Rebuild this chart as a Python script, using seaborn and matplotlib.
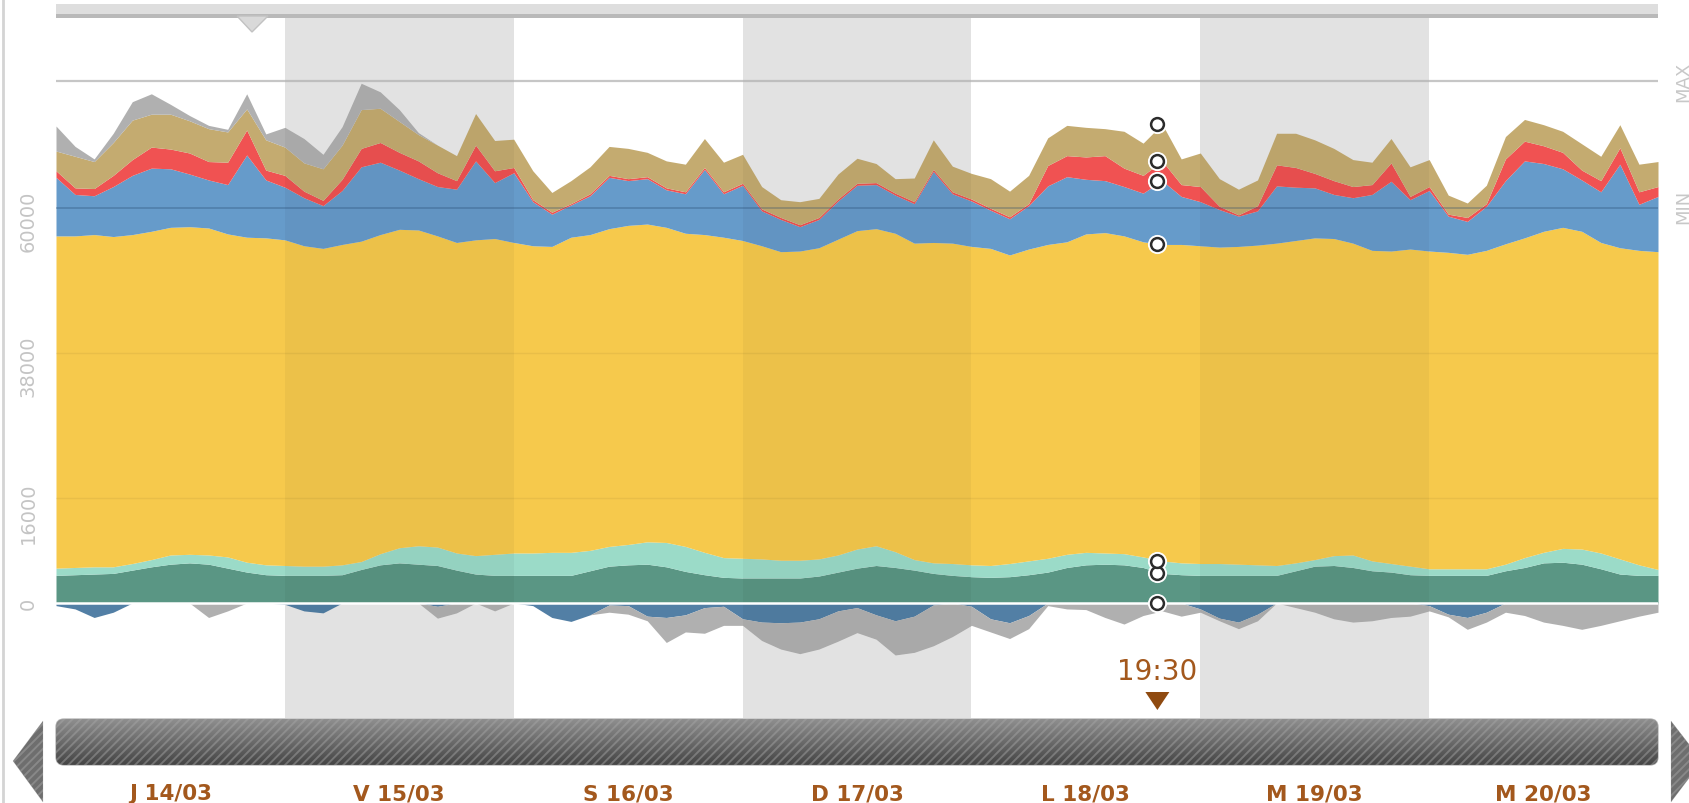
import numpy as np
import matplotlib
matplotlib.use("Agg")
import matplotlib.pyplot as plt
import matplotlib.transforms as mtransforms
from matplotlib.colors import LinearSegmentedColormap
from matplotlib.patches import FancyBboxPatch, Polygon, Rectangle
import seaborn as sns

# half-hourly eco2mix style week, read every 2 hours (MW)
hours = np.arange(0, 169, 2)

green = [4200, 4300, 4400, 4500, 5000, 5500, 5900, 6100, 5900, 5300, 4700, 4300,
         4200, 4200, 4200, 4300, 5100, 5800, 6100, 5900, 5700, 5000, 4400, 4200,
         4200, 4200, 4200, 4200, 4900, 5600, 5800, 5900, 5500, 4800, 4300, 3900,
         3800, 3800, 3800, 3800, 4100, 4700, 5300, 5700, 5400, 5000, 4500, 4200,
         4000, 3900, 4000, 4300, 4700, 5400, 5800, 5900, 5800, 5400, 4500, 4300,
         4200, 4200, 4200, 4200, 4200, 4900, 5600, 5700, 5400, 4900, 4700, 4300,
         4200, 4200, 4200, 4200, 4900, 5400, 6100, 6200, 5900, 5200, 4400, 4200,
         4200]
teal = [1100, 1100, 1100, 1000, 1000, 1100, 1400, 1300, 1400, 1700, 1500, 1500,
        1500, 1400, 1400, 1500, 1200, 1700, 2300, 2800, 2800, 2600, 2800, 3200,
        3400, 3400, 3500, 3500, 3100, 3000, 3100, 3400, 3700, 3800, 3400, 3000,
        3000, 2900, 2700, 2700, 2600, 2600, 2900, 3000, 2400, 1600, 1600, 1800,
        1800, 1800, 2000, 2100, 2100, 2000, 1900, 1700, 1700, 1600, 1900, 1800,
        1800, 1800, 1700, 1600, 1500, 1200, 1000, 1500, 1900, 1500, 1300, 1300,
        1000, 1000, 1000, 1000, 1000, 1500, 1600, 2100, 2300, 2400, 2300, 1600,
        900]
yellow = [50500, 50400, 50500, 50200, 50000, 49900, 49800, 49800, 49700, 49100, 49400, 49700,
          49500, 48700, 48300, 48700, 48700, 48500, 48400, 48000, 47300, 47200, 48000, 48000,
          47200, 46700, 46500, 47900, 48000, 48300, 48500, 48300, 47900, 47600, 48300, 48700,
          48300, 47600, 46900, 47000, 47300, 48000, 48400, 48200, 48400, 48100, 48700, 48700,
          48400, 48200, 46900, 47400, 47700, 47500, 48400, 48700, 48300, 47900, 48100, 48400,
          48300, 48100, 48300, 48600, 49000, 49000, 48900, 48200, 47400, 47200, 47500, 48200,
          48300, 48100, 47800, 48400, 48700, 48600, 48800, 48800, 48300, 47200, 47300, 47800,
          48300]
blue = [8900, 6300, 5900, 7600, 9000, 9600, 8900, 8000, 7300, 7500, 12500, 8800,
        8000, 7300, 6500, 8200, 11300, 11000, 9000, 7800, 7500, 8100, 12000, 8500,
        10600, 6700, 4900, 4900, 5900, 7800, 6800, 6900, 5700, 6000, 9900, 6600,
        8400, 5300, 4900, 3700, 4300, 5800, 6900, 6700, 5800, 6000, 10800, 7500,
        6900, 5800, 5500, 6600, 8900, 9900, 8300, 7900, 7500, 7400, 9700, 7300,
        6700, 5700, 4600, 5200, 8700, 8100, 7600, 6700, 6900, 8500, 10600, 7500,
        9200, 5500, 5000, 6700, 9600, 11700, 10300, 8900, 7800, 7700, 12700, 7000,
        8400]
red = [1000, 1000, 1100, 1700, 2400, 3200, 3000, 3200, 2800, 3400, 3800, 1500,
       1800, 1000, 800, 1700, 2800, 3000, 2700, 2700, 2100, 1300, 2400, 1800,
       800, 300, 300, 200, 300, 300, 300, 300, 300, 300, 300, 300,
       300, 300, 300, 300, 300, 300, 300, 300, 300, 300, 300, 300,
       300, 300, 300, 300, 3100, 3200, 3400, 3800, 2800, 2700, 3000, 1800,
       2300, 500, 200, 800, 3200, 3000, 2200, 2100, 1700, 1500, 2800, 500,
       600, 300, 600, 400, 3300, 3000, 2700, 2500, 1500, 1700, 2500, 1900,
       1500]
tan = [3000, 4800, 4100, 5000, 6000, 5000, 5300, 4900, 5000, 4600, 3200, 4600,
       4300, 4300, 4800, 5200, 5900, 5200, 4700, 4000, 4200, 3800, 4800, 4600,
       4300, 4400, 3000, 3500, 4100, 4400, 4600, 3700, 4100, 4200, 4400, 4500,
       4400, 3400, 2700, 3500, 2900, 3800, 3800, 2900, 2200, 3600, 4500, 3900,
       3900, 4500, 3900, 4300, 4200, 4600, 4500, 4100, 5600, 4900, 5600, 3900,
       5100, 4200, 3900, 3900, 4800, 5200, 5100, 4900, 4100, 3400, 3700, 4500,
       4100, 2900, 2200, 2800, 3400, 3300, 3200, 3200, 4000, 3700, 3500, 4200,
       3800]
gray_top = [3800, 1500, 400, 1400, 2800, 3100, 1500, 800, 500, 400, 2300, 900,
            3000, 3700, 2200, 2800, 4000, 2500, 1800, 300, 0, 0, 0, 0,
            0, 0, 0, 0, 0, 0, 0, 0, 0, 0, 0, 0,
            0, 0, 0, 0, 0, 0, 0, 0, 0, 0, 0, 0,
            0, 0, 0, 0, 0, 0, 0, 0, 0, 0, 0, 0,
            0, 0, 0, 0, 0, 0, 0, 0, 0, 0, 0, 0,
            0, 0, 0, 0, 0, 0, 0, 0, 0, 0, 0, 0,
            0]
neg_blue = [400, 900, 2200, 1400, 0, 0, 0, 0, 0, 0, 0, 0,
            200, 1200, 1500, 0, 0, 0, 0, 0, 500, 0, 0, 0,
            0, 400, 2200, 2800, 1800, 300, 400, 2000, 2200, 1800, 700, 500,
            2400, 2900, 3000, 2900, 2400, 1200, 700, 1800, 2700, 2000, 300, 0,
            500, 2400, 3000, 1900, 0, 0, 0, 0, 0, 0, 0, 0,
            900, 2300, 2900, 1700, 0, 0, 0, 0, 0, 0, 0, 0,
            400, 1700, 2200, 1400, 0, 0, 0, 0, 0, 0, 0, 0,
            0]
neg_gray = [0, 0, 0, 0, 0, 0, 0, 0, 2200, 1200, 0, 0,
            0, 0, 0, 0, 0, 0, 0, 0, 1800, 1500, 0, 1200,
            0, 0, 0, 0, 0, 1100, 1300, 700, 3800, 2600, 3900, 2900,
            1000, 2800, 4000, 4800, 4600, 4600, 3800, 3700, 5200, 5500, 6200, 5100,
            2900, 2000, 2400, 2000, 400, 900, 1000, 2200, 3200, 1900, 1200, 2000,
            500, 400, 1000, 1000, 0, 700, 1400, 2400, 2900, 2700, 2200, 2000,
            800, 400, 1800, 1500, 1400, 1900, 2900, 3400, 4000, 3400, 2700, 2000,
            1400]

days = ["J 14/03", "V 15/03", "S 16/03", "D 17/03", "L 18/03", "M 19/03", "M 20/03"]
ytick_values = [0, 16000, 38000, 60000]
ytick_labels = ["0", "16000", "38000", "60000"]
max_level = 79300
min_level = 60000
marker_hour = 115.5
marker_index = 58  # 20h grid point next to the cursor
marker_label = "19:30"

layer_colors = ["#5a9684", "#9bdbc8", "#f6c94c", "#669bca", "#f05252", "#c4ab70", "#b0b0b0"]
neg_colors = ["#527fa5", "#b0b0b0"]
brown = "#a3581d"

sns.set_theme(style="white")
plt.rcParams['font.family'] = ['DejaVu Sans']
plt.rcParams['hatch.linewidth'] = 1.4

W, H = 1690, 804
fig = plt.figure(figsize=(W / 100, H / 100), dpi=100, facecolor="white")
x0, x1 = 56, 1658
y_top, y_bot = 19, 719
ax = fig.add_axes([x0 / W, 1 - y_bot / H, (x1 - x0) / W, (y_bot - y_top) / H])
ax.set_facecolor("white")

# day bands
for i in range(1, 7, 2):
    ax.axvspan(24 * i, 24 * (i + 1), color="#ececec", lw=0, zorder=0)

ax.axhline(max_level, color="#c6c6c6", lw=1.6, zorder=1)

ax.stackplot(hours, green, teal, yellow, blue, red, tan, gray_top,
             colors=layer_colors, lw=0, zorder=2)
ax.stackplot(hours, -np.array(neg_blue), -np.array(neg_gray),
             colors=neg_colors, lw=0, zorder=2)

for i in range(1, 7, 2):
    ax.axvspan(24 * i, 24 * (i + 1), color="black", alpha=0.04, lw=0, zorder=3)

for v in ytick_values[1:3]:
    ax.axhline(v, color="black", alpha=0.05, lw=1, zorder=4)
ax.axhline(min_level, color="#23476b", alpha=0.3, lw=1.3, zorder=4)
ax.axhline(0, color="white", lw=1.8, zorder=4)

# cursor circles on stack boundaries
levels = np.cumsum([0, green[marker_index], teal[marker_index], yellow[marker_index],
                    blue[marker_index], red[marker_index], tan[marker_index]])
sns.scatterplot(x=[marker_hour] * len(levels), y=levels, ax=ax, s=190, color="white",
                edgecolor="white", linewidth=0, zorder=6, legend=False)
sns.scatterplot(x=[marker_hour] * len(levels), y=levels, ax=ax, s=85, color="white",
                edgecolor="#2b2b2b", linewidth=1.8, zorder=7, legend=False)

ax.set_xlim(0, 168)
ax.set_ylim(-(y_bot - 604) * 152, (604 - y_top) * 152)
for s in ax.spines.values():
    s.set_visible(False)

ax.set_xticks(np.arange(12, 168, 24))
ax.set_xticklabels(days, fontweight="bold", color=brown, fontsize=15.5)
ax.tick_params(axis="x", length=0, pad=47)

ax.set_yticks(ytick_values)
ax.set_yticklabels(ytick_labels, rotation=90, va="center", color="#c4c4c4", fontsize=14)
ax.tick_params(axis="y", length=0, pad=13)
for lbl, off in zip(ax.get_yticklabels(), [0, 15, 12, 12]):
    lbl.set_transform(lbl.get_transform() +
                      mtransforms.ScaledTranslation(0, -off / 100, fig.dpi_scale_trans))

# overlay in pixel coordinates for the widgets
ov = fig.add_axes([0, 0, 1, 1])
ov.set_xlim(0, W)
ov.set_ylim(H, 0)
ov.axis("off")

ov.plot([3, 3], [0, H], color="#d4d4d4", lw=2)

# top range bar
ov.add_patch(Rectangle((x0, 5), x1 - x0, 11, facecolor="#dedede", lw=0))
ov.add_patch(Rectangle((x0, 15), x1 - x0, 4, facecolor="#b9b9b9", lw=0))
ov.add_patch(Polygon([(237, 17), (268, 17), (252, 33)], closed=True,
                     facecolor="#d9d9d9", edgecolor="#c2c2c2", lw=1))

ov.text(1683, 82, "MAX", rotation=90, ha="center", va="center", color="#c8c8c8", fontsize=13)
ov.text(1683, 207, "MIN", rotation=90, ha="center", va="center", color="#c8c8c8", fontsize=13)

# cursor label and arrow
px = x0 + marker_hour / 168 * (x1 - x0)
ov.text(px, 672, marker_label, ha="center", va="center", color=brown, fontsize=20)
ov.add_patch(Polygon([(px - 12, 693), (px + 12, 693), (px, 711)], closed=True,
                     facecolor="#8f4a10", lw=0))

# scrollbar
cmap = LinearSegmentedColormap.from_list("bar", ["#8e8e8e", "#6a6a6a", "#454545"])
bar = FancyBboxPatch((x0, 720), x1 - x0, 46, boxstyle="round,pad=0,rounding_size=8",
                     facecolor="none", edgecolor="#bdbdbd", lw=1)
ov.add_patch(bar)
grad = np.linspace(0, 1, 60).reshape(-1, 1)
im = ov.imshow(grad, extent=(x0, x1, 766, 720), aspect="auto", cmap=cmap, zorder=1)
im.set_clip_path(bar)
stripes = FancyBboxPatch((x0, 720), x1 - x0, 46, boxstyle="round,pad=0,rounding_size=8",
                         facecolor="none", edgecolor="#a8a8a8", hatch="////",
                         lw=0.3, alpha=0.45, zorder=2)
ov.add_patch(stripes)

for pts in ([(43, 722), (43, 803), (13, 762)], [(1671, 722), (1671, 803), (1702, 762)]):
    ov.add_patch(Polygon(pts, closed=True, facecolor="#6e6e6e", lw=0, zorder=1))
    ov.add_patch(Polygon(pts, closed=True, facecolor="none", edgecolor="#a8a8a8",
                         hatch="////", lw=0.3, alpha=0.45, zorder=2))

fig.savefig("out.png", dpi=100, facecolor="white")
